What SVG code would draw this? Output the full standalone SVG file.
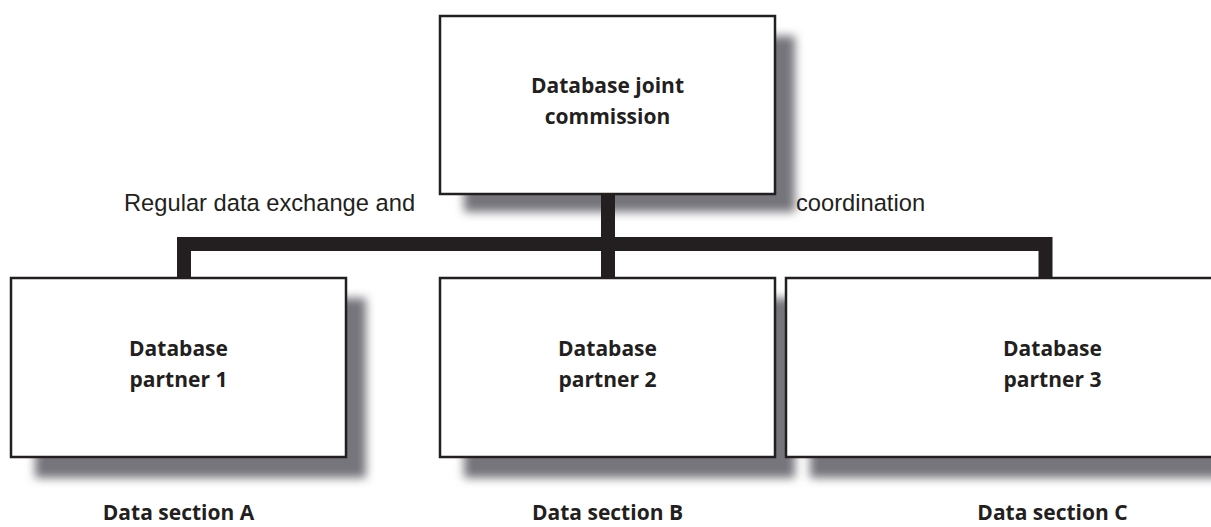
<svg xmlns="http://www.w3.org/2000/svg" width="1211" height="527" viewBox="0 0 1211 527">
<defs>
<filter id="sh" x="-20%" y="-20%" width="140%" height="140%">
<feGaussianBlur stdDeviation="5"/>
</filter>
</defs>
<style>
.box{fill:#fff;stroke:#231f20;stroke-width:2.5}
.shadow{fill:#76757b;filter:url(#sh)}
.lbl{font-family:"Open Sans","Liberation Sans",sans-serif;font-weight:bold;font-size:21px;fill:#231f20;text-anchor:middle}
.note{font-family:"Liberation Sans",Arial,sans-serif;font-size:23.7px;fill:#231f20}
.conn{fill:none;stroke:#231f20;stroke-width:14}
</style>
<rect width="1211" height="527" fill="#fff"/>
<g id="commission">
<rect class="shadow" x="464" y="36" width="331" height="176"/>
<rect class="box" x="440" y="16" width="335" height="178"/>
<text class="lbl" x="607.5" y="93">Database joint</text>
<text class="lbl" x="607.5" y="124">commission</text>
</g>
<g id="partner1">
<rect class="shadow" x="35" y="298" width="331" height="180"/>
<rect class="box" x="11" y="278" width="335" height="179"/>
<text class="lbl" x="178.5" y="356">Database</text>
<text class="lbl" x="178.5" y="387">partner 1</text>
</g>
<g id="partner2">
<rect class="shadow" x="464" y="298" width="331" height="180"/>
<rect class="box" x="440" y="278" width="335" height="179"/>
<text class="lbl" x="607.5" y="356">Database</text>
<text class="lbl" x="607.5" y="387">partner 2</text>
</g>
<g id="partner3">
<rect class="shadow" x="810" y="298" width="500" height="180"/>
<rect class="box" x="786" y="278" width="535" height="179"/>
<text class="lbl" x="1052.5" y="356">Database</text>
<text class="lbl" x="1052.5" y="387">partner 3</text>
</g>
<g id="connectors">
<path class="conn" d="M184 278 V244 H1045.5 V278"/>
<path class="conn" d="M608 194 V278"/>
</g>
<g id="labels">
<text class="note" x="124" y="211">Regular data exchange and</text>
<text class="note" x="796" y="211">coordination</text>
<text class="lbl" x="178.5" y="520">Data section A</text>
<text class="lbl" x="607.5" y="520">Data section B</text>
<text class="lbl" x="1052.5" y="520">Data section C</text>
</g>
</svg>
